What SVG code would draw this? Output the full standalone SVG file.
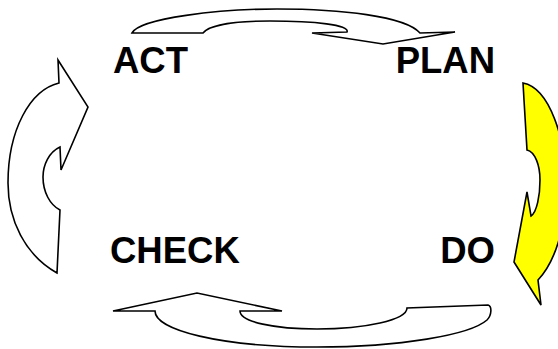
<svg xmlns="http://www.w3.org/2000/svg" width="558" height="349" viewBox="0 0 558 349">
<style>
.arrow{fill:#fff;stroke:#000;stroke-width:1.6;stroke-linejoin:miter}
.yellow{fill:#ffff00}
.lbl{font-family:"Liberation Sans",Arial,sans-serif;font-weight:bold;font-size:36.5px;fill:#000}
</style>
<rect width="558" height="349" fill="#fff"/>
<g id="connectors">
<path id="arrow-act-plan" class="arrow" d="M 132,33 C 140,18 220,9 277,9 C 340,9 405,16 420,33 L 455,32 L 383,44 L 312,33 L 347,32 C 350,25 315,21 270,21 C 230,21 208,26 203,33 Z"/>
<path id="arrow-plan-do" class="arrow yellow" d="M 523,83 C 550,88 566,140 566,185 C 566,228 555,262 538,280 L 541,305 L 514,262 L 527,192 L 531,216 C 537,212 540,195 540,180 C 540,165 535,152 527,150 Z"/>
<path id="arrow-do-check" class="arrow" d="M 113,311 L 197,293 L 282,311 L 240,311 C 240,322 275,329 317,329 C 365,329 407,320 407,308 L 488,305 C 492,306 492,315 487,320 C 470,335 400,347 317,347 C 220,347 155,330 155,311 Z"/>
<path id="arrow-check-act" class="arrow" d="M 58,60 L 88,107 L 61,170 L 60,147 C 49,152 43,165 43,177 C 43,192 50,205 60,210 L 57,273 C 25,255 8,220 8,183 C 8,130 30,90 59,83 Z"/>
</g>
<g id="node-act"><text class="lbl" x="113" y="73">ACT</text></g>
<g id="node-plan"><text class="lbl" x="495" y="73" text-anchor="end">PLAN</text></g>
<g id="node-check"><text class="lbl" x="110" y="263">CHECK</text></g>
<g id="node-do"><text class="lbl" x="495" y="263" text-anchor="end">DO</text></g>
</svg>
